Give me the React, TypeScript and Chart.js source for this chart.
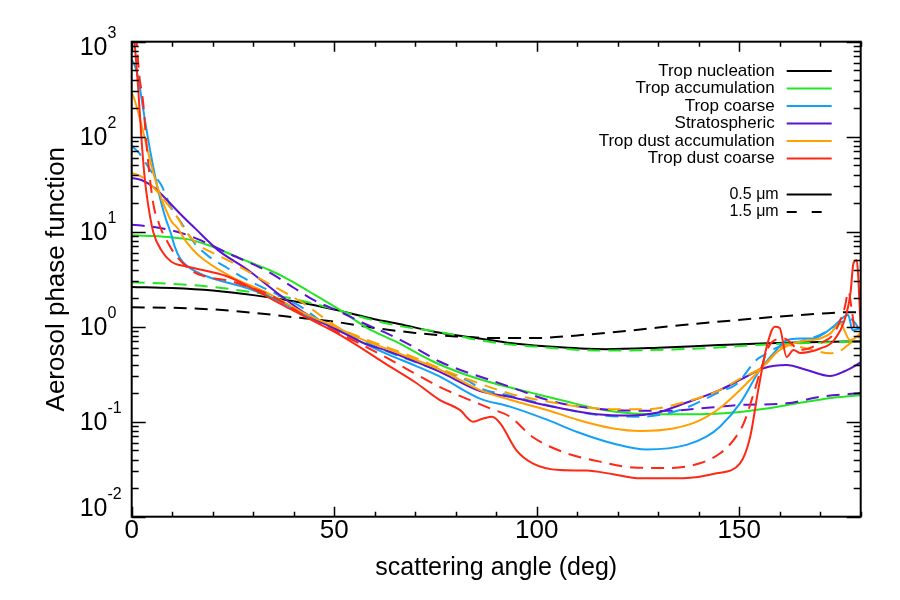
import React, { useEffect, useRef } from 'react';
import { Chart, registerables } from 'chart.js';

Chart.register(...registerables);

type Pt = [number, number];

const FONT = '"Liberation Sans", Arial, Helvetica, sans-serif';

// Aerosol types, legend order
const aerosolLabels = [
  'Trop nucleation',
  'Trop accumulation',
  'Trop coarse',
  'Stratospheric',
  'Trop dust accumulation',
  'Trop dust coarse',
];
const aerosolColors = ['#000000', '#22e622', '#14a0f5', '#5a14d2', '#ffa000', '#ff2814'];
const wavelengthLabels = ['0.5 \u03bcm', '1.5 \u03bcm'];

const xTickValues = [0, 50, 100, 150];
const yDecades = [-2, -1, 0, 1, 2, 3];

// Phase functions: [scattering angle (deg), value]
const nucleation05: Pt[] = [
  [0, 2.62], [10, 2.55], [20, 2.4], [30, 2.15], [40, 1.85], [50, 1.52], [60, 1.2], [66, 1.07],
  [75, 0.88], [87, 0.74], [95, 0.66], [105, 0.61], [117, 0.58], [130, 0.6], [145, 0.64],
  [157, 0.67], [170, 0.69], [180, 0.7],
];
const nucleation15: Pt[] = [
  [0, 1.6], [10, 1.58], [20, 1.52], [30, 1.4], [40, 1.26], [50, 1.13], [60, 0.97], [70, 0.86],
  [80, 0.79], [90, 0.76], [100, 0.76], [110, 0.81], [124, 0.92], [136, 1.04], [148, 1.16],
  [160, 1.28], [170, 1.37], [177, 1.42], [180, 1.42],
];
const accumulation05: Pt[] = [
  [0, 9.2], [5, 9.0], [10, 8.7], [14, 8.3], [19, 7.2], [24, 5.9], [29, 4.8], [34, 3.95],
  [39, 3.1], [43.5, 2.39], [51.4, 1.5], [58, 0.98], [66, 0.67], [74.4, 0.43], [82.7, 0.31],
  [91, 0.243], [99, 0.2], [107.4, 0.163], [115.6, 0.135], [123.8, 0.122], [132, 0.12],
  [140.3, 0.12], [148.6, 0.125], [156.8, 0.138], [165, 0.158], [173.2, 0.179], [180, 0.19],
];
const accumulation15: Pt[] = [
  [0, 2.93], [10, 2.82], [20, 2.62], [30, 2.3], [39, 2.0], [45, 1.75], [51.4, 1.47], [58, 1.22],
  [66, 1.02], [77, 0.865], [86.7, 0.71], [99, 0.62], [117, 0.56], [140, 0.59], [157, 0.65],
  [170, 0.68], [180, 0.7],
];
const coarse05: Pt[] = [
  [0, 646], [0.8, 560], [1.6, 415], [2.8, 200], [4, 97], [5.2, 51], [6.5, 27.6], [8.1, 15.1],
  [9.7, 9.5], [10.6, 7.0], [12, 5.2], [13.9, 4.28], [18.8, 3.36], [28.7, 2.54], [36, 1.9],
  [43.5, 1.27], [51.4, 0.92], [57, 0.68], [63.8, 0.5], [70, 0.39], [76, 0.3], [86, 0.175],
  [93.4, 0.144], [102.5, 0.105], [110, 0.078], [118.9, 0.059], [127.2, 0.051], [137, 0.057],
  [142, 0.07], [145.3, 0.089], [150.2, 0.156], [155.1, 0.35], [158.4, 0.52], [161.7, 0.72],
  [165, 0.75], [168.3, 0.75], [171, 0.85], [173.2, 1.0], [176.9, 1.33], [178, 0.92], [180, 0.97],
];
const coarse15: Pt[] = [
  [0, 79], [1.5, 70], [3.2, 55], [5, 42], [7.3, 31], [9.7, 18], [12.2, 12.5], [15.6, 7.5],
  [19, 5.5], [23.8, 4.1], [28, 3.2], [33.7, 2.43], [41.8, 1.62], [48, 1.05], [55.5, 0.755],
  [63, 0.55], [72, 0.395], [83.5, 0.263], [86, 0.225], [93, 0.19], [102.5, 0.15],
  [114.8, 0.118], [125.5, 0.113], [135.4, 0.133], [145.3, 0.207], [149.4, 0.25], [154.3, 0.45],
  [156, 0.5], [160, 0.62], [165, 0.7], [170, 0.82], [175, 1.1], [177.5, 1.2], [180, 0.9],
];
const strato05: Pt[] = [
  [0, 36.7], [2.4, 35], [5.7, 28.8], [9, 20.9], [12.2, 15.1], [15.6, 10.9], [21.3, 6.4],
  [28.7, 3.95], [36, 2.25], [43.5, 1.33], [51.4, 0.9], [57, 0.68], [63.8, 0.545], [70, 0.43],
  [76, 0.336], [86, 0.21], [93.4, 0.183], [102.5, 0.148], [114.8, 0.12], [123, 0.116],
  [130, 0.125], [135.4, 0.15], [145.3, 0.216], [150.2, 0.275], [156, 0.365], [161.7, 0.395],
  [166.7, 0.35], [172.4, 0.303], [176, 0.34], [180, 0.42],
];
const strato15: Pt[] = [
  [0, 11.8], [2.4, 11.6], [7.3, 10.9], [13.9, 9.2], [18.8, 7.5], [23.8, 5.93], [33.7, 3.79],
  [40.2, 2.54], [45, 1.9], [51.4, 1.44], [57, 1.1], [63.8, 0.82], [70, 0.6], [76, 0.43],
  [82, 0.34], [88.5, 0.275], [95, 0.22], [102.5, 0.17], [110, 0.145], [118.9, 0.133],
  [131, 0.13], [143.7, 0.142], [150, 0.15], [161.7, 0.156], [170, 0.183], [180, 0.2],
];
const dustAccum05: Pt[] = [
  [0, 290], [0.7, 245], [2.4, 134], [4, 70], [5.7, 36.7], [7.3, 22.6], [9.8, 12.9],
  [11.4, 10.8], [13.5, 7.8], [16.4, 5.7], [23.8, 3.5], [33.7, 2.24], [43.5, 1.33],
  [51.4, 0.95], [57, 0.73], [63.8, 0.57], [70, 0.45], [76, 0.356], [86, 0.215], [93.4, 0.17],
  [102.5, 0.133], [110, 0.105], [118.9, 0.085], [125.5, 0.08], [133.7, 0.085], [140.4, 0.104],
  [145.3, 0.14], [150.2, 0.216], [155.1, 0.35], [160, 0.57], [165, 0.695], [170, 0.75],
  [172.5, 0.85], [174.9, 1.08], [177.4, 0.72], [180, 0.85],
];
const dustAccum15: Pt[] = [
  [0, 41.5], [2.4, 38], [4.8, 31], [7.3, 23.6], [11.4, 13.9], [13.1, 10.5], [16, 7.5],
  [20, 6.0], [23.8, 5.0], [33.7, 2.86], [41.8, 1.83], [51.4, 0.96], [57, 0.76], [63.8, 0.59],
  [70, 0.47], [76, 0.365], [85, 0.26], [93, 0.2], [102.5, 0.163], [110, 0.145],
  [118.9, 0.135], [127, 0.135], [137, 0.163], [145.3, 0.216], [150, 0.28], [155.9, 0.38],
  [161.7, 0.64], [166.7, 0.59], [172.4, 0.525], [175, 0.56], [178, 0.7], [180, 0.8],
];
const dustCoarse05: Pt[] = [
  [0, 2500], [0.7, 1000], [1.6, 325], [2.4, 97], [3.2, 37], [4, 20], [5.3, 10], [7.3, 6.4],
  [9.8, 4.83], [13.9, 4.28], [23.8, 3.36], [33.7, 2.05], [39, 1.55], [43.5, 1.23],
  [51.4, 0.82], [63.8, 0.38], [70, 0.26], [76, 0.17], [81, 0.133], [84.3, 0.1], [86.8, 0.108],
  [89, 0.113], [91, 0.096], [95, 0.05], [99, 0.0365], [105.7, 0.031], [112.3, 0.0306],
  [118.9, 0.028], [125.5, 0.0254], [136.2, 0.0254], [144.4, 0.0286], [150.2, 0.0365],
  [152.7, 0.069], [154.7, 0.216], [156.8, 0.62], [158.8, 1.0], [160, 0.97], [161.7, 0.48],
  [163.4, 0.57], [165, 0.53], [170, 0.59], [173.4, 0.72], [176.5, 1.38], [177.5, 2.3],
  [178.2, 4.65], [179, 5.0], [180, 1.0],
];
const dustCoarse15: Pt[] = [
  [0, 2000], [1, 1200], [1.6, 600], [2, 400], [2.8, 236], [3.5, 100], [4.5, 36], [5.5, 18],
  [6.5, 13], [7.5, 10], [8.5, 8.3], [10, 6.4], [11.4, 5.3], [14.6, 3.95], [17, 3.5],
  [20, 3.25], [24, 3.05], [28, 2.7], [33.7, 2.2], [43.5, 1.25], [51.4, 0.85], [63.8, 0.45],
  [76, 0.233], [88.5, 0.138], [93.4, 0.113], [99, 0.069], [107.4, 0.0465], [115.6, 0.038],
  [123.8, 0.033], [132.1, 0.0325], [140.3, 0.0365], [145.3, 0.0465], [148.6, 0.064],
  [151.1, 0.096], [153.6, 0.2], [155.3, 0.35], [157.8, 0.67], [161, 0.75], [165.1, 0.57],
  [170, 0.67], [173.4, 0.85], [176, 1.56], [177, 2.34], [177.8, 1.5], [178.6, 0.92],
  [180, 0.89],
];

// [0.5 um, 1.5 um] pairs in legend order
const seriesPairs: [Pt[], Pt[]][] = [
  [nucleation05, nucleation15],
  [accumulation05, accumulation15],
  [coarse05, coarse15],
  [strato05, strato15],
  [dustAccum05, dustAccum15],
  [dustCoarse05, dustCoarse15],
];

const DASH = [13, 8];

// Box, inward ticks on all four sides, superscript decade labels and the legend
const framePlugin = {
  id: 'frameTicksLegend',
  afterDatasetsDraw(chart: any) {
    const { ctx, chartArea: a, scales } = chart;
    const xs = scales.x;
    const ys = scales.y;
    ctx.save();
    ctx.strokeStyle = '#000';
    ctx.fillStyle = '#000';

    ctx.lineWidth = 1.5;
    ctx.beginPath();
    for (let v = 0; v <= 180; v += 10) {
      const px = Math.round(xs.getPixelForValue(v)) + 0.5;
      const len = v % 50 === 0 ? 10 : 5;
      ctx.moveTo(px, a.bottom);
      ctx.lineTo(px, a.bottom - len);
      ctx.moveTo(px, a.top);
      ctx.lineTo(px, a.top + len);
    }
    for (const d of yDecades) {
      for (let k = 1; k <= 9; k++) {
        const v = k * Math.pow(10, d);
        if (v > 1000.0001) break;
        const py = Math.round(ys.getPixelForValue(v)) + 0.5;
        const len = k === 1 ? 14 : 7;
        ctx.moveTo(a.left, py);
        ctx.lineTo(a.left + len, py);
        ctx.moveTo(a.right, py);
        ctx.lineTo(a.right - len, py);
      }
    }
    ctx.stroke();

    ctx.lineWidth = 2;
    ctx.strokeRect(a.left, a.top, a.right - a.left, a.bottom - a.top);

    // decade labels 10^n
    ctx.textBaseline = 'middle';
    ctx.textAlign = 'left';
    for (const d of yDecades) {
      const py = ys.getPixelForValue(Math.pow(10, d));
      const cy = Math.min(Math.max(py, a.top + 5), a.bottom - 9) + 1;
      const x0 = a.left - 52;
      ctx.font = `25px ${FONT}`;
      ctx.fillText('10', x0, cy);
      const w = ctx.measureText('10').width;
      ctx.font = `16px ${FONT}`;
      ctx.fillText(String(d), x0 + w, cy - 14);
    }

    // legend
    const textRight = a.right - 86;
    const lineL = a.right - 74;
    const lineR = a.right - 29;
    ctx.font = `17px ${FONT}`;
    ctx.textAlign = 'right';
    ctx.lineWidth = 2;
    aerosolLabels.forEach((label, i) => {
      const y = a.top + 29.3 + i * 17.5;
      ctx.fillStyle = '#000';
      ctx.fillText(label, textRight, y);
      ctx.strokeStyle = aerosolColors[i];
      ctx.beginPath();
      ctx.moveTo(lineL, y);
      ctx.lineTo(lineR, y);
      ctx.stroke();
    });
    ctx.font = `16px ${FONT}`;
    wavelengthLabels.forEach((label, i) => {
      const y = a.top + 152.8 + i * 17.5;
      ctx.fillStyle = '#000';
      ctx.fillText(label, textRight + 4, y);
      ctx.strokeStyle = '#000';
      ctx.setLineDash(i === 0 ? [] : [10, 15]);
      ctx.beginPath();
      ctx.moveTo(lineL, y);
      ctx.lineTo(lineR, y);
      ctx.stroke();
    });
    ctx.setLineDash([]);
    ctx.restore();
  },
};

export default function App() {
  const canvasRef = useRef<HTMLCanvasElement | null>(null);

  useEffect(() => {
    const canvas = canvasRef.current;
    if (!canvas) return;

    const datasets: any[] = [];
    seriesPairs.forEach(([solid, dashed], i) => {
      const base = {
        borderColor: aerosolColors[i],
        borderWidth: 2,
        pointRadius: 0,
        fill: false,
        cubicInterpolationMode: 'monotone',
        order: 20 - i * 2,
      };
      datasets.push({
        ...base,
        label: `${aerosolLabels[i]} ${wavelengthLabels[1]}`,
        data: dashed.map(([x, y]) => ({ x, y })),
        borderDash: DASH,
        order: base.order + 1,
      });
      datasets.push({
        ...base,
        label: `${aerosolLabels[i]} ${wavelengthLabels[0]}`,
        data: solid.map(([x, y]) => ({ x, y })),
      });
    });

    const chart = new Chart(canvas, {
      type: 'line',
      data: { datasets },
      options: {
        responsive: false,
        animation: false,
        layout: { padding: { left: 41, right: 39.3, top: 41.7, bottom: 0 } },
        plugins: {
          legend: { display: false },
          tooltip: { enabled: false },
        },
        scales: {
          x: {
            type: 'linear',
            position: 'bottom',
            min: 0,
            max: 180,
            grid: { display: false },
            border: { display: false },
            afterBuildTicks: (scale: any) => {
              scale.ticks = xTickValues.map((v) => ({ value: v }));
            },
            afterFit: (scale: any) => {
              scale.height = 83.3;
            },
            ticks: {
              color: '#000',
              padding: -9,
              maxRotation: 0,
              font: { family: FONT, size: 26 },
              callback: (v: any) => String(v),
            },
            title: {
              display: true,
              text: 'scattering angle (deg)',
              color: '#000',
              font: { family: FONT, size: 25 },
              padding: { top: 0, bottom: 17 },
            },
          },
          y: {
            type: 'logarithmic',
            min: 0.01,
            max: 1000,
            grid: { display: false },
            border: { display: false },
            ticks: { display: false },
            afterFit: (scale: any) => {
              scale.width = 131.7 - 41;
            },
            title: {
              display: true,
              text: 'Aerosol phase function',
              color: '#000',
              font: { family: FONT, size: 26 },
              padding: { top: 0, bottom: 0 },
            },
          },
        },
      },
      plugins: [framePlugin],
    });

    return () => chart.destroy();
  }, []);

  return (
    <div style={{ position: 'absolute', left: 0, top: 0, width: 900, height: 600, background: '#fff' }}>
      <canvas ref={canvasRef} width={900} height={600} style={{ display: 'block' }} />
    </div>
  );
}
